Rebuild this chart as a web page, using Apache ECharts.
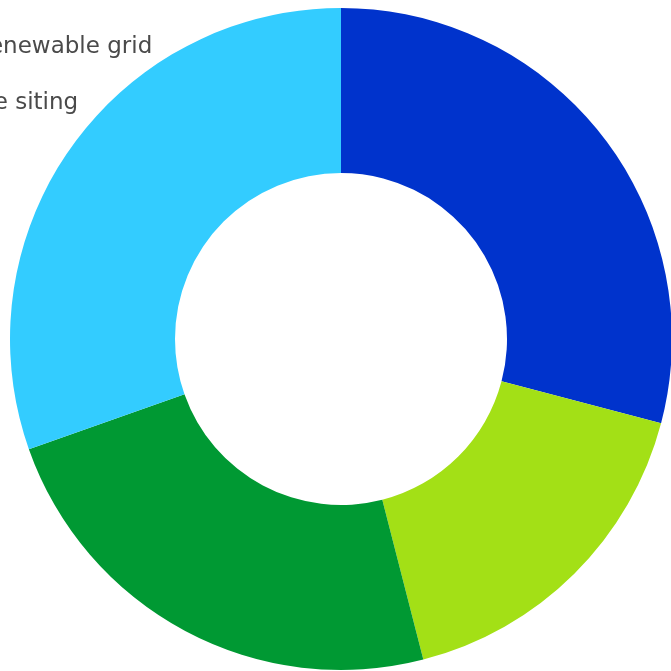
<!DOCTYPE html>
<html>
<head>
<meta charset="utf-8">
<style>
  html, body { margin: 0; padding: 0; background: #ffffff; }
  #chart { width: 671px; height: 671px; }
</style>
<script src="https://cdn.jsdelivr.net/npm/echarts@6/dist/echarts.min.js"></script>
</head>
<body>
<div id="chart"></div>
<script>
// Share of each category (percent)
const categories = ['Renewable grid', 'Tie siting', 'Storage', 'Transmission'];
const values = [29.1, 16.9, 23.6, 30.4];
const colors = ['#0033cc', '#a3e016', '#009933', '#33ccff'];
const legendNames = ['Renewable grid', 'Tie siting'];

const chart = echarts.init(document.getElementById('chart'), null, { renderer: 'canvas' });

chart.setOption({
  animation: false,
  color: colors,
  legend: {
    orient: 'vertical',
    left: -61,
    top: 31,
    padding: 5,
    itemWidth: 25,
    itemHeight: 14,
    itemGap: 33,
    data: legendNames,
    textStyle: {
      fontFamily: 'DejaVu Sans',
      fontSize: 23,
      color: '#4a4a4a'
    }
  },
  series: [{
    type: 'pie',
    center: [341, 339],
    radius: [166, 331],
    startAngle: 90,
    clockwise: true,
    label: { show: false },
    labelLine: { show: false },
    emphasis: { disabled: true },
    data: categories.map((name, i) => ({ name, value: values[i] }))
  }]
});
</script>
</body>
</html>
